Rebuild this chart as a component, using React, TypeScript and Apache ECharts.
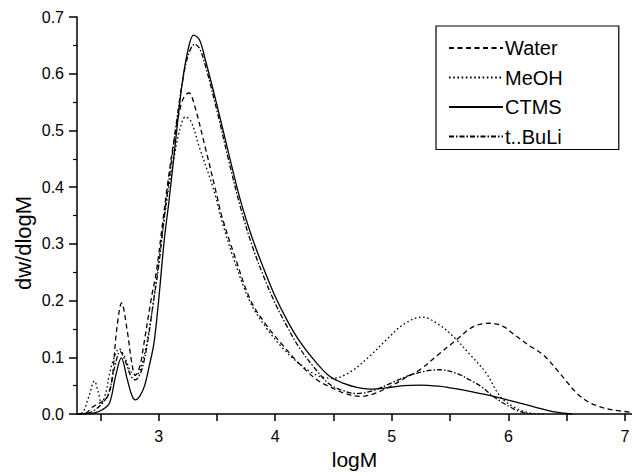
import React, { useEffect, useRef } from "react";
import * as echarts from "echarts";

const waterX = [2.30, 2.38, 2.43, 2.50, 2.56, 2.60, 2.64, 2.683, 2.73, 2.77, 2.80, 2.84, 2.87, 2.94, 2.98, 3.03, 3.08, 3.13, 3.18, 3.22, 3.26, 3.30, 3.40, 3.50, 3.54, 3.65, 3.79, 3.93, 4.07, 4.20, 4.36, 4.50, 4.60, 4.73, 4.85, 5.00, 5.10, 5.24, 5.40, 5.55, 5.70, 5.84, 5.95, 6.05, 6.19, 6.30, 6.44, 6.52, 6.59, 6.68, 6.78, 6.90, 7.06];
const waterY = [0.000, 0.002, 0.012, 0.020, 0.030, 0.060, 0.148, 0.196, 0.148, 0.090, 0.068, 0.085, 0.119, 0.207, 0.250, 0.330, 0.410, 0.480, 0.535, 0.560, 0.566, 0.550, 0.470, 0.385, 0.350, 0.280, 0.200, 0.155, 0.120, 0.090, 0.060, 0.045, 0.036, 0.031, 0.036, 0.050, 0.062, 0.078, 0.105, 0.130, 0.154, 0.160, 0.155, 0.140, 0.119, 0.104, 0.072, 0.052, 0.036, 0.022, 0.013, 0.007, 0.003];

const meohX = [2.30, 2.35, 2.40, 2.45, 2.48, 2.51, 2.55, 2.58, 2.62, 2.66, 2.71, 2.76, 2.81, 2.86, 2.92, 2.97, 3.02, 3.08, 3.13, 3.18, 3.23, 3.28, 3.35, 3.45, 3.50, 3.54, 3.65, 3.79, 3.93, 4.07, 4.20, 4.36, 4.50, 4.65, 4.80, 4.95, 5.10, 5.26, 5.40, 5.53, 5.67, 5.81, 5.93, 6.05, 6.18, 6.30];
const meohY = [0.000, 0.003, 0.030, 0.058, 0.040, 0.019, 0.040, 0.072, 0.100, 0.115, 0.100, 0.075, 0.069, 0.090, 0.150, 0.220, 0.300, 0.390, 0.450, 0.500, 0.524, 0.515, 0.470, 0.410, 0.375, 0.342, 0.270, 0.195, 0.150, 0.115, 0.090, 0.068, 0.063, 0.075, 0.100, 0.130, 0.158, 0.171, 0.158, 0.136, 0.105, 0.072, 0.031, 0.012, 0.002, 0.000];

const ctmsX = [2.30, 2.45, 2.52, 2.58, 2.63, 2.68, 2.73, 2.77, 2.80, 2.84, 2.88, 2.92, 2.96, 3.00, 3.05, 3.09, 3.15, 3.20, 3.25, 3.30, 3.35, 3.40, 3.50, 3.60, 3.70, 3.80, 3.90, 4.00, 4.10, 4.21, 4.35, 4.47, 4.60, 4.70, 4.81, 4.95, 5.10, 5.24, 5.40, 5.53, 5.67, 5.81, 5.95, 6.10, 6.25, 6.38, 6.55];
const ctmsY = [0.000, 0.002, 0.008, 0.020, 0.066, 0.099, 0.062, 0.033, 0.025, 0.032, 0.050, 0.085, 0.125, 0.200, 0.310, 0.377, 0.490, 0.580, 0.640, 0.668, 0.660, 0.625, 0.545, 0.460, 0.378, 0.312, 0.257, 0.207, 0.166, 0.128, 0.091, 0.066, 0.053, 0.047, 0.044, 0.046, 0.050, 0.051, 0.049, 0.045, 0.040, 0.034, 0.027, 0.019, 0.011, 0.004, 0.000];

const bauliX = [2.30, 2.40, 2.50, 2.57, 2.62, 2.67, 2.72, 2.76, 2.80, 2.85, 2.90, 2.95, 3.00, 3.05, 3.10, 3.15, 3.20, 3.25, 3.31, 3.35, 3.40, 3.50, 3.60, 3.70, 3.80, 3.90, 4.00, 4.10, 4.20, 4.35, 4.47, 4.60, 4.70, 4.85, 5.00, 5.15, 5.30, 5.41, 5.55, 5.67, 5.77, 5.87, 6.00, 6.10, 6.20];
const bauliY = [0.000, 0.002, 0.015, 0.036, 0.080, 0.110, 0.090, 0.068, 0.060, 0.075, 0.120, 0.190, 0.260, 0.350, 0.430, 0.510, 0.580, 0.630, 0.652, 0.645, 0.615, 0.535, 0.448, 0.366, 0.298, 0.243, 0.195, 0.155, 0.119, 0.078, 0.052, 0.040, 0.036, 0.042, 0.055, 0.068, 0.076, 0.078, 0.072, 0.060, 0.048, 0.031, 0.014, 0.004, 0.000];

const seriesNames = ["Water", "MeOH", "CTMS", "t..BuLi"];
const yTicks = [0, 0.1, 0.2, 0.3, 0.4, 0.5, 0.6, 0.7];
const xLabelValues = [3, 4, 5, 6, 7];

const FONT = "'Liberation Sans', Arial, Helvetica, sans-serif";

function zip(xs: number[], ys: number[]) {
  return xs.map((x, i) => [x, ys[i]]);
}

export default function App() {
  const ref = useRef<HTMLDivElement>(null);
  useEffect(() => {
    if (!ref.current) return;
    const chart = echarts.init(ref.current, undefined, { renderer: "svg" });
    const lineBase = { type: "line", symbol: "none", showSymbol: false, smooth: 0.35, z: 3 };
    const dashes: any[] = [[5, 3.5], [1.6, 2.6], "solid", [5, 2, 1.5, 2]];
    const datas = [zip(waterX, waterY), zip(meohX, meohY), zip(ctmsX, ctmsY), zip(bauliX, bauliY)];
    chart.setOption({
      animation: false,
      backgroundColor: "#ffffff",
      grid: { left: 77, right: 0, top: 17, bottom: 62, outerBoundsMode: "none", containLabel: false },
      xAxis: {
        type: "value",
        min: 2.3,
        max: 7.06,
        splitNumber: 10,
        name: "logM",
        nameLocation: "middle",
        nameGap: 34,
        nameTextStyle: { fontFamily: FONT, fontSize: 21, color: "#000" },
        axisLine: { show: true, onZero: false, lineStyle: { color: "#000", width: 1.5 } },
        axisTick: { show: true, inside: false, length: 7, lineStyle: { color: "#000", width: 1.5 } },
        axisLabel: {
          fontFamily: FONT,
          fontSize: 16,
          color: "#000",
          margin: 14,
          showMinLabel: false,
          showMaxLabel: false,
          formatter: (v: number) => (xLabelValues.indexOf(Math.round(v * 1000) / 1000) >= 0 ? String(v) : ""),
        },
        splitLine: { show: false },
      },
      yAxis: {
        type: "value",
        min: yTicks[0],
        max: yTicks[yTicks.length - 1],
        interval: 0.1,
        axisLine: { show: true, onZero: false, lineStyle: { color: "#000", width: 1.5 } },
        axisTick: { show: true, inside: false, length: 8, lineStyle: { color: "#000", width: 1.5 } },
        minorTick: { show: true, splitNumber: 2, length: 4, lineStyle: { color: "#000", width: 1.2 } },
        axisLabel: {
          fontFamily: FONT,
          fontSize: 16,
          color: "#000",
          margin: 13,
          formatter: (v: number) => v.toFixed(1),
        },
        splitLine: { show: false },
      },
      legend: {
        orient: "vertical",
        left: 436,
        top: 26,
        data: seriesNames,
        itemWidth: 54,
        itemHeight: 14,
        itemGap: 9.5,
        padding: [12, 56, 3, 12],
        borderColor: "#000",
        borderWidth: 1.2,
        borderRadius: 0,
        backgroundColor: "#fff",
        itemStyle: { color: "rgba(0,0,0,0)", borderColor: "rgba(0,0,0,0)", borderWidth: 0 },
        textStyle: { fontFamily: FONT, fontSize: 20, color: "#000", padding: [0, 0, 0, -3] },
      },
      graphic: [
        {
          type: "text",
          x: 23,
          y: 243,
          rotation: Math.PI / 2,
          style: {
            text: "dw/dlogM",
            font: `22px ${FONT}`,
            fill: "#000",
            textAlign: "center",
            textVerticalAlign: "middle",
          },
        },
      ],
      series: seriesNames.map((name, i) => ({
        ...lineBase,
        name,
        data: datas[i],
        itemStyle: { color: "#000" },
        lineStyle: { color: "#000", width: 1.3, type: dashes[i] },
      })),
    });
    return () => chart.dispose();
  }, []);
  return <div ref={ref} style={{ position: "fixed", left: 0, top: 0, width: 632, height: 476 }} />;
}
